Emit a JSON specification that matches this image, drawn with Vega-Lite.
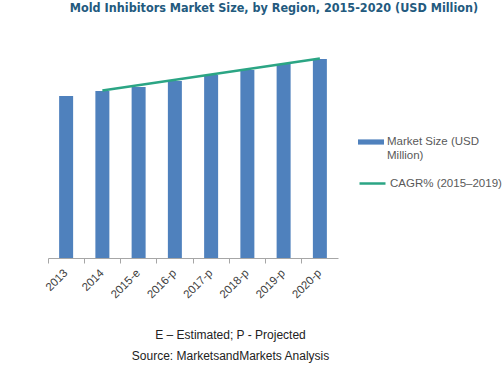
{
  "$schema": "https://vega.github.io/schema/vega-lite/v6.json",
  "width": 290,
  "height": 200,
  "autosize": "none",
  "padding": {"left": 48, "top": 58, "right": 165, "bottom": 108},
  "background": "white",
  "title": {
    "text": "Mold Inhibitors Market Size, by Region, 2015-2020 (USD Million)",
    "font": "DejaVu Sans Condensed, DejaVu Sans",
    "fontSize": 12.5,
    "fontWeight": "bold",
    "color": "#235A7E",
    "anchor": "middle",
    "frame": "group",
    "dx": 81,
    "offset": 39
  },
  "datasets": {
    "bars": [
      {"year": "2013", "value": 162, "series": "Market Size (USD Million)"},
      {"year": "2014", "value": 167, "series": "Market Size (USD Million)"},
      {"year": "2015-e", "value": 171, "series": "Market Size (USD Million)"},
      {"year": "2016-p", "value": 177, "series": "Market Size (USD Million)"},
      {"year": "2017-p", "value": 183, "series": "Market Size (USD Million)"},
      {"year": "2018-p", "value": 188, "series": "Market Size (USD Million)"},
      {"year": "2019-p", "value": 194, "series": "Market Size (USD Million)"},
      {"year": "2020-p", "value": 199, "series": "Market Size (USD Million)"}
    ],
    "cagr": [
      {"year": "2014", "value": 167.5, "series": "CAGR% (2015–2019)"},
      {"year": "2020-p", "value": 199.5, "series": "CAGR% (2015–2019)"}
    ]
  },
  "layer": [
    {
      "data": {"name": "bars"},
      "mark": {"type": "bar"},
      "encoding": {
        "x": {
          "field": "year",
          "type": "ordinal",
          "scale": {
            "type": "band",
            "domain": ["2013", "2014", "2015-e", "2016-p", "2017-p", "2018-p", "2019-p", "2020-p"],
            "paddingInner": 0.614,
            "paddingOuter": 0.307
          },
          "axis": {
            "orient": "bottom",
            "labelAngle": -45,
            "labelAlign": "right",
            "labelBaseline": "middle",
            "ticks": false,
            "grid": false,
            "domainColor": "#A6A6A6",
            "labelFont": "Liberation Sans",
            "labelFontSize": 11.5,
            "labelColor": "#404040",
            "labelPadding": 13,
            "title": ["E – Estimated; P - Projected", "Source: MarketsandMarkets Analysis"],
            "titleFont": "Liberation Sans",
            "titleFontSize": 12,
            "titleFontWeight": "normal",
            "titleColor": "#222222",
            "titleLineHeight": 21,
            "titleX": 182,
            "titleY": 80,
            "titleBaseline": "alphabetic",
            "titleAlign": "center"
          }
        },
        "y": {
          "field": "value",
          "type": "quantitative",
          "scale": {"domain": [0, 200]},
          "axis": null
        },
        "fill": {
          "field": "series",
          "type": "nominal",
          "scale": {"range": ["#4F81BD"]},
          "legend": {
            "orient": "none",
            "legendX": 310,
            "legendY": 71,
            "title": null,
            "padding": 0,
            "symbolType": "M-1,-0.2H1V0.2H-1Z",
            "symbolSize": 676,
            "symbolStrokeWidth": 0,
            "labelFont": "Liberation Sans",
            "labelFontSize": 11.5,
            "labelColor": "#595959",
            "labelOffset": 3,
            "labelLimit": 200,
            "labelBaseline": "middle",
            "labelExpr": "datum.label == 'Market Size (USD Million)' ? ['Market Size (USD', 'Million)'] : datum.label"
          }
        }
      }
    },
    {
      "data": {"name": "cagr"},
      "mark": {"type": "line", "strokeWidth": 2.5},
      "encoding": {
        "x": {
          "field": "year",
          "type": "ordinal",
          "scale": {
            "type": "band",
            "domain": ["2013", "2014", "2015-e", "2016-p", "2017-p", "2018-p", "2019-p", "2020-p"],
            "paddingInner": 0,
            "paddingOuter": 0
          },
          "axis": {
            "orient": "bottom",
            "bandPosition": 0,
            "labels": false,
            "domain": false,
            "ticks": true,
            "tickColor": "#A6A6A6",
            "tickSize": 5,
            "grid": false,
            "title": null
          }
        },
        "y": {
          "field": "value",
          "type": "quantitative",
          "scale": {"domain": [0, 200]},
          "axis": null
        },
        "stroke": {
          "field": "series",
          "type": "nominal",
          "scale": {"range": ["#2BA584"]},
          "legend": {
            "orient": "none",
            "legendX": 310,
            "legendY": 111,
            "title": null,
            "padding": 0,
            "symbolType": "stroke",
            "symbolSize": 676,
            "symbolStrokeWidth": 2.5,
            "labelFont": "Liberation Sans",
            "labelFontSize": 11.5,
            "labelColor": "#595959",
            "labelOffset": 3,
            "labelLimit": 200
          }
        }
      }
    }
  ],
  "resolve": {"scale": {"x": "independent", "fill": "independent", "stroke": "independent"}},
  "config": {"view": {"stroke": null}}
}
